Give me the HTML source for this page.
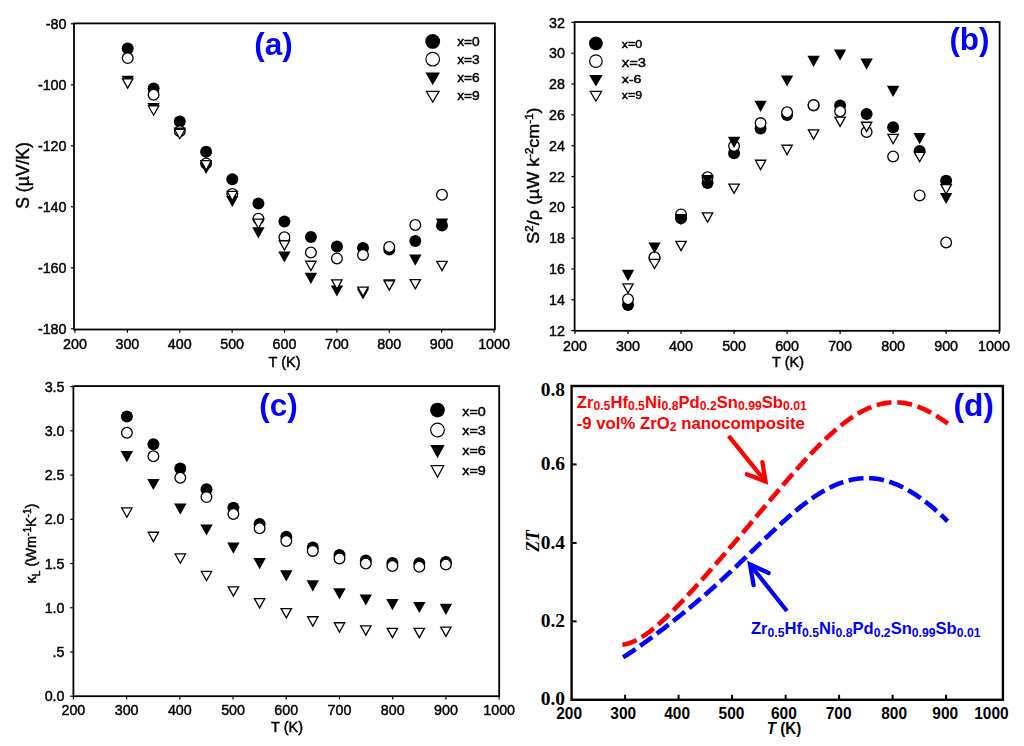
<!DOCTYPE html>
<html><head><meta charset="utf-8"><title>Thermoelectric properties</title>
<style>
html,body{margin:0;padding:0;background:#fff;}
body{width:1024px;height:746px;overflow:hidden;font-family:"Liberation Sans", sans-serif;}
svg{display:block;}
</style></head>
<body>
<svg width="1024" height="746" viewBox="0 0 1024 746">
<rect width="1024" height="746" fill="#fff"/>
<g opacity="0.999">
<line x1="75" y1="329.5" x2="75" y2="332.7" stroke="#000" stroke-width="1.2"/>
<line x1="127.38" y1="329.5" x2="127.38" y2="332.7" stroke="#000" stroke-width="1.2"/>
<line x1="179.76" y1="329.5" x2="179.76" y2="332.7" stroke="#000" stroke-width="1.2"/>
<line x1="232.14" y1="329.5" x2="232.14" y2="332.7" stroke="#000" stroke-width="1.2"/>
<line x1="284.52" y1="329.5" x2="284.52" y2="332.7" stroke="#000" stroke-width="1.2"/>
<line x1="336.9" y1="329.5" x2="336.9" y2="332.7" stroke="#000" stroke-width="1.2"/>
<line x1="389.28" y1="329.5" x2="389.28" y2="332.7" stroke="#000" stroke-width="1.2"/>
<line x1="441.66" y1="329.5" x2="441.66" y2="332.7" stroke="#000" stroke-width="1.2"/>
<line x1="494.04" y1="329.5" x2="494.04" y2="332.7" stroke="#000" stroke-width="1.2"/>
<line x1="70.8" y1="23.8" x2="74" y2="23.8" stroke="#000" stroke-width="1.2"/>
<line x1="70.8" y1="84.8" x2="74" y2="84.8" stroke="#000" stroke-width="1.2"/>
<line x1="70.8" y1="145.8" x2="74" y2="145.8" stroke="#000" stroke-width="1.2"/>
<line x1="70.8" y1="206.8" x2="74" y2="206.8" stroke="#000" stroke-width="1.2"/>
<line x1="70.8" y1="267.8" x2="74" y2="267.8" stroke="#000" stroke-width="1.2"/>
<line x1="70.8" y1="328.8" x2="74" y2="328.8" stroke="#000" stroke-width="1.2"/>
<rect x="74" y="23.4" width="420.9" height="306.1" fill="none" stroke="#000" stroke-width="1.8"/>
<text x="75" y="349.4" font-size="14.3" text-anchor="middle" font-weight="normal" font-family='"Liberation Sans", sans-serif' fill="#000" stroke="#000" stroke-width="0.45" >200</text>
<text x="127.38" y="349.4" font-size="14.3" text-anchor="middle" font-weight="normal" font-family='"Liberation Sans", sans-serif' fill="#000" stroke="#000" stroke-width="0.45" >300</text>
<text x="179.76" y="349.4" font-size="14.3" text-anchor="middle" font-weight="normal" font-family='"Liberation Sans", sans-serif' fill="#000" stroke="#000" stroke-width="0.45" >400</text>
<text x="232.14" y="349.4" font-size="14.3" text-anchor="middle" font-weight="normal" font-family='"Liberation Sans", sans-serif' fill="#000" stroke="#000" stroke-width="0.45" >500</text>
<text x="284.52" y="349.4" font-size="14.3" text-anchor="middle" font-weight="normal" font-family='"Liberation Sans", sans-serif' fill="#000" stroke="#000" stroke-width="0.45" >600</text>
<text x="336.9" y="349.4" font-size="14.3" text-anchor="middle" font-weight="normal" font-family='"Liberation Sans", sans-serif' fill="#000" stroke="#000" stroke-width="0.45" >700</text>
<text x="389.28" y="349.4" font-size="14.3" text-anchor="middle" font-weight="normal" font-family='"Liberation Sans", sans-serif' fill="#000" stroke="#000" stroke-width="0.45" >800</text>
<text x="441.66" y="349.4" font-size="14.3" text-anchor="middle" font-weight="normal" font-family='"Liberation Sans", sans-serif' fill="#000" stroke="#000" stroke-width="0.45" >900</text>
<text x="494.04" y="349.4" font-size="14.3" text-anchor="middle" font-weight="normal" font-family='"Liberation Sans", sans-serif' fill="#000" stroke="#000" stroke-width="0.45" >1000</text>
<text x="66.5" y="28.95" font-size="14.3" text-anchor="end" font-weight="normal" font-family='"Liberation Sans", sans-serif' fill="#000" stroke="#000" stroke-width="0.45" >-80</text>
<text x="66.5" y="89.95" font-size="14.3" text-anchor="end" font-weight="normal" font-family='"Liberation Sans", sans-serif' fill="#000" stroke="#000" stroke-width="0.45" >-100</text>
<text x="66.5" y="150.95" font-size="14.3" text-anchor="end" font-weight="normal" font-family='"Liberation Sans", sans-serif' fill="#000" stroke="#000" stroke-width="0.45" >-120</text>
<text x="66.5" y="211.95" font-size="14.3" text-anchor="end" font-weight="normal" font-family='"Liberation Sans", sans-serif' fill="#000" stroke="#000" stroke-width="0.45" >-140</text>
<text x="66.5" y="272.95" font-size="14.3" text-anchor="end" font-weight="normal" font-family='"Liberation Sans", sans-serif' fill="#000" stroke="#000" stroke-width="0.45" >-160</text>
<text x="66.5" y="333.95" font-size="14.3" text-anchor="end" font-weight="normal" font-family='"Liberation Sans", sans-serif' fill="#000" stroke="#000" stroke-width="0.45" >-180</text>
<circle cx="127.7" cy="48.5" r="6" fill="#000"/>
<circle cx="153.6" cy="88.4" r="6" fill="#000"/>
<circle cx="179.8" cy="121.5" r="6" fill="#000"/>
<circle cx="206.1" cy="151.8" r="6" fill="#000"/>
<circle cx="232.3" cy="179.3" r="6" fill="#000"/>
<circle cx="258.4" cy="203.5" r="6" fill="#000"/>
<circle cx="284.4" cy="221.6" r="6" fill="#000"/>
<circle cx="310.9" cy="237.1" r="6" fill="#000"/>
<circle cx="336.9" cy="246.4" r="6" fill="#000"/>
<circle cx="363" cy="248" r="6" fill="#000"/>
<circle cx="389.3" cy="249.5" r="6" fill="#000"/>
<circle cx="415.3" cy="241" r="6" fill="#000"/>
<circle cx="442" cy="225.6" r="6" fill="#000"/>
<circle cx="127.7" cy="58.1" r="5.35" fill="#fff" stroke="#000" stroke-width="1.3"/>
<circle cx="153.6" cy="94.7" r="5.35" fill="#fff" stroke="#000" stroke-width="1.3"/>
<circle cx="179.8" cy="131.2" r="5.35" fill="#fff" stroke="#000" stroke-width="1.3"/>
<circle cx="206.1" cy="163.5" r="5.35" fill="#fff" stroke="#000" stroke-width="1.3"/>
<circle cx="232.3" cy="194" r="5.35" fill="#fff" stroke="#000" stroke-width="1.3"/>
<circle cx="258.4" cy="218.8" r="5.35" fill="#fff" stroke="#000" stroke-width="1.3"/>
<circle cx="284.4" cy="237.3" r="5.35" fill="#fff" stroke="#000" stroke-width="1.3"/>
<circle cx="310.9" cy="252.5" r="5.35" fill="#fff" stroke="#000" stroke-width="1.3"/>
<circle cx="336.9" cy="258.4" r="5.35" fill="#fff" stroke="#000" stroke-width="1.3"/>
<circle cx="363" cy="254.9" r="5.35" fill="#fff" stroke="#000" stroke-width="1.3"/>
<circle cx="389.3" cy="247" r="5.35" fill="#fff" stroke="#000" stroke-width="1.3"/>
<circle cx="415.3" cy="225" r="5.35" fill="#fff" stroke="#000" stroke-width="1.3"/>
<circle cx="442" cy="194.8" r="5.35" fill="#fff" stroke="#000" stroke-width="1.3"/>
<polygon points="121.5,75.7 133.9,75.7 127.7,86.9" fill="#000"/>
<polygon points="147.4,102.9 159.8,102.9 153.6,114.1" fill="#000"/>
<polygon points="173.6,127.4 186,127.4 179.8,138.6" fill="#000"/>
<polygon points="199.9,162.9 212.3,162.9 206.1,174.1" fill="#000"/>
<polygon points="226.1,195.9 238.5,195.9 232.3,207.1" fill="#000"/>
<polygon points="252.2,227.3 264.6,227.3 258.4,238.5" fill="#000"/>
<polygon points="278.2,251.4 290.6,251.4 284.4,262.6" fill="#000"/>
<polygon points="304.7,272.7 317.1,272.7 310.9,283.9" fill="#000"/>
<polygon points="330.7,285.4 343.1,285.4 336.9,296.6" fill="#000"/>
<polygon points="356.8,288.4 369.2,288.4 363,299.6" fill="#000"/>
<polygon points="383.1,279.2 395.5,279.2 389.3,290.4" fill="#000"/>
<polygon points="409.1,254.6 421.5,254.6 415.3,265.8" fill="#000"/>
<polygon points="435.8,218.6 448.2,218.6 442,229.8" fill="#000"/>
<polygon points="122.51,78.85 132.89,78.85 127.7,88.15" fill="#fff" stroke="#000" stroke-width="1.3" stroke-linejoin="miter"/>
<polygon points="148.41,105.95 158.79,105.95 153.6,115.25" fill="#fff" stroke="#000" stroke-width="1.3" stroke-linejoin="miter"/>
<polygon points="174.61,129.45 184.99,129.45 179.8,138.75" fill="#fff" stroke="#000" stroke-width="1.3" stroke-linejoin="miter"/>
<polygon points="200.91,160.65 211.29,160.65 206.1,169.95" fill="#fff" stroke="#000" stroke-width="1.3" stroke-linejoin="miter"/>
<polygon points="227.11,191.35 237.49,191.35 232.3,200.65" fill="#fff" stroke="#000" stroke-width="1.3" stroke-linejoin="miter"/>
<polygon points="253.21,219.15 263.59,219.15 258.4,228.45" fill="#fff" stroke="#000" stroke-width="1.3" stroke-linejoin="miter"/>
<polygon points="279.21,240.75 289.59,240.75 284.4,250.05" fill="#fff" stroke="#000" stroke-width="1.3" stroke-linejoin="miter"/>
<polygon points="305.71,261.25 316.09,261.25 310.9,270.55" fill="#fff" stroke="#000" stroke-width="1.3" stroke-linejoin="miter"/>
<polygon points="331.71,279.85 342.09,279.85 336.9,289.15" fill="#fff" stroke="#000" stroke-width="1.3" stroke-linejoin="miter"/>
<polygon points="357.81,287.05 368.19,287.05 363,296.35" fill="#fff" stroke="#000" stroke-width="1.3" stroke-linejoin="miter"/>
<polygon points="384.11,280.85 394.49,280.85 389.3,290.15" fill="#fff" stroke="#000" stroke-width="1.3" stroke-linejoin="miter"/>
<polygon points="410.11,279.55 420.49,279.55 415.3,288.85" fill="#fff" stroke="#000" stroke-width="1.3" stroke-linejoin="miter"/>
<polygon points="436.81,261.35 447.19,261.35 442,270.65" fill="#fff" stroke="#000" stroke-width="1.3" stroke-linejoin="miter"/>
<circle cx="432.7" cy="41.4" r="7.4" fill="#000"/>
<text x="457.2" y="46.4" font-size="13" text-anchor="start" font-weight="normal" font-family='"Liberation Sans", sans-serif' fill="#000" stroke="#000" stroke-width="0.45" textLength="22.6" lengthAdjust="spacingAndGlyphs">x=0</text>
<circle cx="432.7" cy="59.2" r="6.8" fill="#fff" stroke="#000" stroke-width="1.2"/>
<text x="457.2" y="64.2" font-size="13" text-anchor="start" font-weight="normal" font-family='"Liberation Sans", sans-serif' fill="#000" stroke="#000" stroke-width="0.45" textLength="22.6" lengthAdjust="spacingAndGlyphs">x=3</text>
<polygon points="425.4,72.6 440,72.6 432.7,85.2" fill="#000"/>
<text x="457.2" y="82.4" font-size="13" text-anchor="start" font-weight="normal" font-family='"Liberation Sans", sans-serif' fill="#000" stroke="#000" stroke-width="0.45" textLength="22.6" lengthAdjust="spacingAndGlyphs">x=6</text>
<polygon points="426.34,91.3 439.06,91.3 432.7,102.15" fill="#fff" stroke="#000" stroke-width="1.2" stroke-linejoin="miter"/>
<text x="457.2" y="100.4" font-size="13" text-anchor="start" font-weight="normal" font-family='"Liberation Sans", sans-serif' fill="#000" stroke="#000" stroke-width="0.45" textLength="22.6" lengthAdjust="spacingAndGlyphs">x=9</text>
<text x="273.5" y="54.8" font-size="31.5" text-anchor="middle" font-weight="bold" font-family='"Liberation Sans", sans-serif' fill="#0000ff" >(a)</text>
<text x="284.5" y="366.8" font-size="14.5" text-anchor="middle" font-weight="normal" font-family='"Liberation Sans", sans-serif' fill="#000" stroke="#000" stroke-width="0.45" >T (K)</text>
<text x="0" y="0" font-size="17.5" text-anchor="middle" font-weight="normal" font-family='"Liberation Sans", sans-serif' fill="#000" stroke="#000" stroke-width="0.45" transform="translate(29.3,175.5) rotate(-90)">S (µV/K)</text>
<line x1="575" y1="330.8" x2="575" y2="334" stroke="#000" stroke-width="1.2"/>
<line x1="628.02" y1="330.8" x2="628.02" y2="334" stroke="#000" stroke-width="1.2"/>
<line x1="681.04" y1="330.8" x2="681.04" y2="334" stroke="#000" stroke-width="1.2"/>
<line x1="734.06" y1="330.8" x2="734.06" y2="334" stroke="#000" stroke-width="1.2"/>
<line x1="787.08" y1="330.8" x2="787.08" y2="334" stroke="#000" stroke-width="1.2"/>
<line x1="840.1" y1="330.8" x2="840.1" y2="334" stroke="#000" stroke-width="1.2"/>
<line x1="893.12" y1="330.8" x2="893.12" y2="334" stroke="#000" stroke-width="1.2"/>
<line x1="946.14" y1="330.8" x2="946.14" y2="334" stroke="#000" stroke-width="1.2"/>
<line x1="999.16" y1="330.8" x2="999.16" y2="334" stroke="#000" stroke-width="1.2"/>
<line x1="571.4" y1="330.6" x2="574.6" y2="330.6" stroke="#000" stroke-width="1.2"/>
<line x1="571.4" y1="299.78" x2="574.6" y2="299.78" stroke="#000" stroke-width="1.2"/>
<line x1="571.4" y1="268.96" x2="574.6" y2="268.96" stroke="#000" stroke-width="1.2"/>
<line x1="571.4" y1="238.14" x2="574.6" y2="238.14" stroke="#000" stroke-width="1.2"/>
<line x1="571.4" y1="207.32" x2="574.6" y2="207.32" stroke="#000" stroke-width="1.2"/>
<line x1="571.4" y1="176.5" x2="574.6" y2="176.5" stroke="#000" stroke-width="1.2"/>
<line x1="571.4" y1="145.68" x2="574.6" y2="145.68" stroke="#000" stroke-width="1.2"/>
<line x1="571.4" y1="114.86" x2="574.6" y2="114.86" stroke="#000" stroke-width="1.2"/>
<line x1="571.4" y1="84.04" x2="574.6" y2="84.04" stroke="#000" stroke-width="1.2"/>
<line x1="571.4" y1="53.22" x2="574.6" y2="53.22" stroke="#000" stroke-width="1.2"/>
<line x1="571.4" y1="22.4" x2="574.6" y2="22.4" stroke="#000" stroke-width="1.2"/>
<rect x="574.6" y="22" width="425" height="308.8" fill="none" stroke="#000" stroke-width="1.8"/>
<text x="575" y="351" font-size="14.3" text-anchor="middle" font-weight="normal" font-family='"Liberation Sans", sans-serif' fill="#000" stroke="#000" stroke-width="0.45" >200</text>
<text x="628.02" y="351" font-size="14.3" text-anchor="middle" font-weight="normal" font-family='"Liberation Sans", sans-serif' fill="#000" stroke="#000" stroke-width="0.45" >300</text>
<text x="681.04" y="351" font-size="14.3" text-anchor="middle" font-weight="normal" font-family='"Liberation Sans", sans-serif' fill="#000" stroke="#000" stroke-width="0.45" >400</text>
<text x="734.06" y="351" font-size="14.3" text-anchor="middle" font-weight="normal" font-family='"Liberation Sans", sans-serif' fill="#000" stroke="#000" stroke-width="0.45" >500</text>
<text x="787.08" y="351" font-size="14.3" text-anchor="middle" font-weight="normal" font-family='"Liberation Sans", sans-serif' fill="#000" stroke="#000" stroke-width="0.45" >600</text>
<text x="840.1" y="351" font-size="14.3" text-anchor="middle" font-weight="normal" font-family='"Liberation Sans", sans-serif' fill="#000" stroke="#000" stroke-width="0.45" >700</text>
<text x="893.12" y="351" font-size="14.3" text-anchor="middle" font-weight="normal" font-family='"Liberation Sans", sans-serif' fill="#000" stroke="#000" stroke-width="0.45" >800</text>
<text x="946.14" y="351" font-size="14.3" text-anchor="middle" font-weight="normal" font-family='"Liberation Sans", sans-serif' fill="#000" stroke="#000" stroke-width="0.45" >900</text>
<text x="993.96" y="351" font-size="14.3" text-anchor="middle" font-weight="normal" font-family='"Liberation Sans", sans-serif' fill="#000" stroke="#000" stroke-width="0.45" >1000</text>
<text x="565" y="335.75" font-size="14.3" text-anchor="end" font-weight="normal" font-family='"Liberation Sans", sans-serif' fill="#000" stroke="#000" stroke-width="0.45" >12</text>
<text x="565" y="304.93" font-size="14.3" text-anchor="end" font-weight="normal" font-family='"Liberation Sans", sans-serif' fill="#000" stroke="#000" stroke-width="0.45" >14</text>
<text x="565" y="274.11" font-size="14.3" text-anchor="end" font-weight="normal" font-family='"Liberation Sans", sans-serif' fill="#000" stroke="#000" stroke-width="0.45" >16</text>
<text x="565" y="243.29" font-size="14.3" text-anchor="end" font-weight="normal" font-family='"Liberation Sans", sans-serif' fill="#000" stroke="#000" stroke-width="0.45" >18</text>
<text x="565" y="212.47" font-size="14.3" text-anchor="end" font-weight="normal" font-family='"Liberation Sans", sans-serif' fill="#000" stroke="#000" stroke-width="0.45" >20</text>
<text x="565" y="181.65" font-size="14.3" text-anchor="end" font-weight="normal" font-family='"Liberation Sans", sans-serif' fill="#000" stroke="#000" stroke-width="0.45" >22</text>
<text x="565" y="150.83" font-size="14.3" text-anchor="end" font-weight="normal" font-family='"Liberation Sans", sans-serif' fill="#000" stroke="#000" stroke-width="0.45" >24</text>
<text x="565" y="120.01" font-size="14.3" text-anchor="end" font-weight="normal" font-family='"Liberation Sans", sans-serif' fill="#000" stroke="#000" stroke-width="0.45" >26</text>
<text x="565" y="89.19" font-size="14.3" text-anchor="end" font-weight="normal" font-family='"Liberation Sans", sans-serif' fill="#000" stroke="#000" stroke-width="0.45" >28</text>
<text x="565" y="58.37" font-size="14.3" text-anchor="end" font-weight="normal" font-family='"Liberation Sans", sans-serif' fill="#000" stroke="#000" stroke-width="0.45" >30</text>
<text x="565" y="27.55" font-size="14.3" text-anchor="end" font-weight="normal" font-family='"Liberation Sans", sans-serif' fill="#000" stroke="#000" stroke-width="0.45" >32</text>
<circle cx="628.02" cy="305" r="6" fill="#000"/>
<circle cx="654.53" cy="258" r="6" fill="#000"/>
<circle cx="681.04" cy="218.3" r="6" fill="#000"/>
<circle cx="707.55" cy="183" r="6" fill="#000"/>
<circle cx="734.06" cy="153.3" r="6" fill="#000"/>
<circle cx="760.57" cy="128.4" r="6" fill="#000"/>
<circle cx="787.08" cy="114.9" r="6" fill="#000"/>
<circle cx="813.59" cy="105.5" r="6" fill="#000"/>
<circle cx="840.1" cy="105.5" r="6" fill="#000"/>
<circle cx="866.61" cy="114.1" r="6" fill="#000"/>
<circle cx="893.12" cy="127.3" r="6" fill="#000"/>
<circle cx="919.63" cy="150.9" r="6" fill="#000"/>
<circle cx="946.14" cy="180.7" r="6" fill="#000"/>
<circle cx="628.02" cy="299.3" r="5.35" fill="#fff" stroke="#000" stroke-width="1.3"/>
<circle cx="654.53" cy="257.2" r="5.35" fill="#fff" stroke="#000" stroke-width="1.3"/>
<circle cx="681.04" cy="214.4" r="5.35" fill="#fff" stroke="#000" stroke-width="1.3"/>
<circle cx="707.55" cy="177.3" r="5.35" fill="#fff" stroke="#000" stroke-width="1.3"/>
<circle cx="734.06" cy="146" r="5.35" fill="#fff" stroke="#000" stroke-width="1.3"/>
<circle cx="760.57" cy="123.1" r="5.35" fill="#fff" stroke="#000" stroke-width="1.3"/>
<circle cx="787.08" cy="112.2" r="5.35" fill="#fff" stroke="#000" stroke-width="1.3"/>
<circle cx="813.59" cy="105.1" r="5.35" fill="#fff" stroke="#000" stroke-width="1.3"/>
<circle cx="840.1" cy="111.3" r="5.35" fill="#fff" stroke="#000" stroke-width="1.3"/>
<circle cx="866.61" cy="132" r="5.35" fill="#fff" stroke="#000" stroke-width="1.3"/>
<circle cx="893.12" cy="156.5" r="5.35" fill="#fff" stroke="#000" stroke-width="1.3"/>
<circle cx="919.63" cy="195.4" r="5.35" fill="#fff" stroke="#000" stroke-width="1.3"/>
<circle cx="946.14" cy="242.5" r="5.35" fill="#fff" stroke="#000" stroke-width="1.3"/>
<polygon points="621.82,269.8 634.22,269.8 628.02,281" fill="#000"/>
<polygon points="648.33,242.4 660.73,242.4 654.53,253.6" fill="#000"/>
<polygon points="674.84,214 687.24,214 681.04,225.2" fill="#000"/>
<polygon points="701.35,174.9 713.75,174.9 707.55,186.1" fill="#000"/>
<polygon points="727.86,136.7 740.26,136.7 734.06,147.9" fill="#000"/>
<polygon points="754.37,100.8 766.77,100.8 760.57,112" fill="#000"/>
<polygon points="780.88,75.4 793.28,75.4 787.08,86.6" fill="#000"/>
<polygon points="807.39,55.7 819.79,55.7 813.59,66.9" fill="#000"/>
<polygon points="833.9,49.4 846.3,49.4 840.1,60.6" fill="#000"/>
<polygon points="860.41,58.6 872.81,58.6 866.61,69.8" fill="#000"/>
<polygon points="886.92,85.7 899.32,85.7 893.12,96.9" fill="#000"/>
<polygon points="913.43,133.1 925.83,133.1 919.63,144.3" fill="#000"/>
<polygon points="939.94,192.9 952.34,192.9 946.14,204.1" fill="#000"/>
<polygon points="622.83,283.85 633.21,283.85 628.02,293.15" fill="#fff" stroke="#000" stroke-width="1.3" stroke-linejoin="miter"/>
<polygon points="649.34,259.45 659.72,259.45 654.53,268.75" fill="#fff" stroke="#000" stroke-width="1.3" stroke-linejoin="miter"/>
<polygon points="675.85,241.35 686.23,241.35 681.04,250.65" fill="#fff" stroke="#000" stroke-width="1.3" stroke-linejoin="miter"/>
<polygon points="702.36,212.85 712.74,212.85 707.55,222.15" fill="#fff" stroke="#000" stroke-width="1.3" stroke-linejoin="miter"/>
<polygon points="728.87,184.05 739.25,184.05 734.06,193.35" fill="#fff" stroke="#000" stroke-width="1.3" stroke-linejoin="miter"/>
<polygon points="755.38,160.25 765.76,160.25 760.57,169.55" fill="#fff" stroke="#000" stroke-width="1.3" stroke-linejoin="miter"/>
<polygon points="781.89,145.25 792.27,145.25 787.08,154.55" fill="#fff" stroke="#000" stroke-width="1.3" stroke-linejoin="miter"/>
<polygon points="808.4,129.85 818.78,129.85 813.59,139.15" fill="#fff" stroke="#000" stroke-width="1.3" stroke-linejoin="miter"/>
<polygon points="834.91,117.05 845.29,117.05 840.1,126.35" fill="#fff" stroke="#000" stroke-width="1.3" stroke-linejoin="miter"/>
<polygon points="861.42,122.25 871.8,122.25 866.61,131.55" fill="#fff" stroke="#000" stroke-width="1.3" stroke-linejoin="miter"/>
<polygon points="887.93,134.45 898.31,134.45 893.12,143.75" fill="#fff" stroke="#000" stroke-width="1.3" stroke-linejoin="miter"/>
<polygon points="914.44,152.45 924.82,152.45 919.63,161.75" fill="#fff" stroke="#000" stroke-width="1.3" stroke-linejoin="miter"/>
<polygon points="940.95,184.65 951.33,184.65 946.14,193.95" fill="#fff" stroke="#000" stroke-width="1.3" stroke-linejoin="miter"/>
<circle cx="595.9" cy="43.4" r="6.9" fill="#000"/>
<text x="621.8" y="47.6" font-size="11" text-anchor="start" font-weight="normal" font-family='"Liberation Sans", sans-serif' fill="#000" stroke="#000" stroke-width="0.45" textLength="20.4" lengthAdjust="spacingAndGlyphs">x=0</text>
<circle cx="595.9" cy="61.1" r="6.3" fill="#fff" stroke="#000" stroke-width="1.2"/>
<text x="621.8" y="66.5" font-size="13" text-anchor="start" font-weight="normal" font-family='"Liberation Sans", sans-serif' fill="#000" stroke="#000" stroke-width="0.45" textLength="24.2" lengthAdjust="spacingAndGlyphs">x=3</text>
<polygon points="589.2,75 602.6,75 595.9,86.4" fill="#000"/>
<text x="621.8" y="83.3" font-size="11" text-anchor="start" font-weight="normal" font-family='"Liberation Sans", sans-serif' fill="#000" stroke="#000" stroke-width="0.45" textLength="19.7" lengthAdjust="spacingAndGlyphs">x-6</text>
<polygon points="590.14,91.4 601.66,91.4 595.9,101.05" fill="#fff" stroke="#000" stroke-width="1.2" stroke-linejoin="miter"/>
<text x="621.8" y="99.3" font-size="11.5" text-anchor="start" font-weight="normal" font-family='"Liberation Sans", sans-serif' fill="#000" stroke="#000" stroke-width="0.45" textLength="20.2" lengthAdjust="spacingAndGlyphs">x=9</text>
<text x="969.5" y="49.6" font-size="31.5" text-anchor="middle" font-weight="bold" font-family='"Liberation Sans", sans-serif' fill="#0000ff" >(b)</text>
<text x="788" y="367" font-size="14.5" text-anchor="middle" font-weight="normal" font-family='"Liberation Sans", sans-serif' fill="#000" stroke="#000" stroke-width="0.45" >T (K)</text>
<text x="0" y="0" font-size="16.5" text-anchor="middle" font-weight="normal" font-family='"Liberation Sans", sans-serif' fill="#000" stroke="#000" stroke-width="0.45" transform="translate(538.5,175.6) rotate(-90) scale(1.09,1)">S<tspan dy="-5.5" font-size="10.5">2</tspan><tspan dy="5.5">/ρ (µW k</tspan><tspan dy="-5.5" font-size="10.5">-2</tspan><tspan dy="5.5">cm</tspan><tspan dy="-5.5" font-size="10.5">-1</tspan><tspan dy="5.5">)</tspan></text>
<line x1="73.4" y1="696.2" x2="73.4" y2="699.4" stroke="#000" stroke-width="1.2"/>
<line x1="126.62" y1="696.2" x2="126.62" y2="699.4" stroke="#000" stroke-width="1.2"/>
<line x1="179.84" y1="696.2" x2="179.84" y2="699.4" stroke="#000" stroke-width="1.2"/>
<line x1="233.06" y1="696.2" x2="233.06" y2="699.4" stroke="#000" stroke-width="1.2"/>
<line x1="286.28" y1="696.2" x2="286.28" y2="699.4" stroke="#000" stroke-width="1.2"/>
<line x1="339.5" y1="696.2" x2="339.5" y2="699.4" stroke="#000" stroke-width="1.2"/>
<line x1="392.72" y1="696.2" x2="392.72" y2="699.4" stroke="#000" stroke-width="1.2"/>
<line x1="445.94" y1="696.2" x2="445.94" y2="699.4" stroke="#000" stroke-width="1.2"/>
<line x1="499.16" y1="696.2" x2="499.16" y2="699.4" stroke="#000" stroke-width="1.2"/>
<line x1="70.2" y1="696.2" x2="73.4" y2="696.2" stroke="#000" stroke-width="1.2"/>
<line x1="70.2" y1="651.98" x2="73.4" y2="651.98" stroke="#000" stroke-width="1.2"/>
<line x1="70.2" y1="607.75" x2="73.4" y2="607.75" stroke="#000" stroke-width="1.2"/>
<line x1="70.2" y1="563.53" x2="73.4" y2="563.53" stroke="#000" stroke-width="1.2"/>
<line x1="70.2" y1="519.3" x2="73.4" y2="519.3" stroke="#000" stroke-width="1.2"/>
<line x1="70.2" y1="475.08" x2="73.4" y2="475.08" stroke="#000" stroke-width="1.2"/>
<line x1="70.2" y1="430.85" x2="73.4" y2="430.85" stroke="#000" stroke-width="1.2"/>
<line x1="70.2" y1="386.63" x2="73.4" y2="386.63" stroke="#000" stroke-width="1.2"/>
<rect x="73.4" y="386.1" width="425.8" height="310.1" fill="none" stroke="#000" stroke-width="1.8"/>
<text x="73.4" y="715.3" font-size="14.3" text-anchor="middle" font-weight="normal" font-family='"Liberation Sans", sans-serif' fill="#000" stroke="#000" stroke-width="0.45" >200</text>
<text x="126.62" y="715.3" font-size="14.3" text-anchor="middle" font-weight="normal" font-family='"Liberation Sans", sans-serif' fill="#000" stroke="#000" stroke-width="0.45" >300</text>
<text x="179.84" y="715.3" font-size="14.3" text-anchor="middle" font-weight="normal" font-family='"Liberation Sans", sans-serif' fill="#000" stroke="#000" stroke-width="0.45" >400</text>
<text x="233.06" y="715.3" font-size="14.3" text-anchor="middle" font-weight="normal" font-family='"Liberation Sans", sans-serif' fill="#000" stroke="#000" stroke-width="0.45" >500</text>
<text x="286.28" y="715.3" font-size="14.3" text-anchor="middle" font-weight="normal" font-family='"Liberation Sans", sans-serif' fill="#000" stroke="#000" stroke-width="0.45" >600</text>
<text x="339.5" y="715.3" font-size="14.3" text-anchor="middle" font-weight="normal" font-family='"Liberation Sans", sans-serif' fill="#000" stroke="#000" stroke-width="0.45" >700</text>
<text x="392.72" y="715.3" font-size="14.3" text-anchor="middle" font-weight="normal" font-family='"Liberation Sans", sans-serif' fill="#000" stroke="#000" stroke-width="0.45" >800</text>
<text x="445.94" y="715.3" font-size="14.3" text-anchor="middle" font-weight="normal" font-family='"Liberation Sans", sans-serif' fill="#000" stroke="#000" stroke-width="0.45" >900</text>
<text x="499.16" y="715.3" font-size="14.3" text-anchor="middle" font-weight="normal" font-family='"Liberation Sans", sans-serif' fill="#000" stroke="#000" stroke-width="0.45" >1000</text>
<text x="64.5" y="701.35" font-size="14.3" text-anchor="end" font-weight="normal" font-family='"Liberation Sans", sans-serif' fill="#000" stroke="#000" stroke-width="0.45" >0.0</text>
<text x="64.5" y="657.12" font-size="14.3" text-anchor="end" font-weight="normal" font-family='"Liberation Sans", sans-serif' fill="#000" stroke="#000" stroke-width="0.45" >.5</text>
<text x="64.5" y="612.9" font-size="14.3" text-anchor="end" font-weight="normal" font-family='"Liberation Sans", sans-serif' fill="#000" stroke="#000" stroke-width="0.45" >1.0</text>
<text x="64.5" y="568.67" font-size="14.3" text-anchor="end" font-weight="normal" font-family='"Liberation Sans", sans-serif' fill="#000" stroke="#000" stroke-width="0.45" >1.5</text>
<text x="64.5" y="524.45" font-size="14.3" text-anchor="end" font-weight="normal" font-family='"Liberation Sans", sans-serif' fill="#000" stroke="#000" stroke-width="0.45" >2.0</text>
<text x="64.5" y="480.22" font-size="14.3" text-anchor="end" font-weight="normal" font-family='"Liberation Sans", sans-serif' fill="#000" stroke="#000" stroke-width="0.45" >2.5</text>
<text x="64.5" y="436" font-size="14.3" text-anchor="end" font-weight="normal" font-family='"Liberation Sans", sans-serif' fill="#000" stroke="#000" stroke-width="0.45" >3.0</text>
<text x="64.5" y="391.77" font-size="14.3" text-anchor="end" font-weight="normal" font-family='"Liberation Sans", sans-serif' fill="#000" stroke="#000" stroke-width="0.45" >3.5</text>
<circle cx="126.9" cy="416.6" r="6" fill="#000"/>
<circle cx="153.4" cy="444.2" r="6" fill="#000"/>
<circle cx="180.3" cy="468.4" r="6" fill="#000"/>
<circle cx="206.5" cy="489.3" r="6" fill="#000"/>
<circle cx="233.4" cy="507.8" r="6" fill="#000"/>
<circle cx="259.6" cy="523.9" r="6" fill="#000"/>
<circle cx="286.3" cy="536.7" r="6" fill="#000"/>
<circle cx="312.8" cy="547.4" r="6" fill="#000"/>
<circle cx="339.5" cy="554.9" r="6" fill="#000"/>
<circle cx="365.8" cy="560.5" r="6" fill="#000"/>
<circle cx="392.4" cy="562.9" r="6" fill="#000"/>
<circle cx="419.3" cy="563.3" r="6" fill="#000"/>
<circle cx="445.9" cy="562" r="6" fill="#000"/>
<circle cx="126.9" cy="432.7" r="5.35" fill="#fff" stroke="#000" stroke-width="1.3"/>
<circle cx="153.4" cy="456.3" r="5.35" fill="#fff" stroke="#000" stroke-width="1.3"/>
<circle cx="180.3" cy="477.8" r="5.35" fill="#fff" stroke="#000" stroke-width="1.3"/>
<circle cx="206.5" cy="497.1" r="5.35" fill="#fff" stroke="#000" stroke-width="1.3"/>
<circle cx="233.4" cy="514" r="5.35" fill="#fff" stroke="#000" stroke-width="1.3"/>
<circle cx="259.6" cy="528.2" r="5.35" fill="#fff" stroke="#000" stroke-width="1.3"/>
<circle cx="286.3" cy="541" r="5.35" fill="#fff" stroke="#000" stroke-width="1.3"/>
<circle cx="312.8" cy="550.9" r="5.35" fill="#fff" stroke="#000" stroke-width="1.3"/>
<circle cx="339.5" cy="558.4" r="5.35" fill="#fff" stroke="#000" stroke-width="1.3"/>
<circle cx="365.8" cy="563.5" r="5.35" fill="#fff" stroke="#000" stroke-width="1.3"/>
<circle cx="392.4" cy="566" r="5.35" fill="#fff" stroke="#000" stroke-width="1.3"/>
<circle cx="419.3" cy="566.7" r="5.35" fill="#fff" stroke="#000" stroke-width="1.3"/>
<circle cx="445.9" cy="564.5" r="5.35" fill="#fff" stroke="#000" stroke-width="1.3"/>
<polygon points="120.7,451 133.1,451 126.9,462.2" fill="#000"/>
<polygon points="147.2,478.9 159.6,478.9 153.4,490.1" fill="#000"/>
<polygon points="174.1,503.6 186.5,503.6 180.3,514.8" fill="#000"/>
<polygon points="200.3,524.4 212.7,524.4 206.5,535.6" fill="#000"/>
<polygon points="227.2,542.5 239.6,542.5 233.4,553.7" fill="#000"/>
<polygon points="253.4,558 265.8,558 259.6,569.2" fill="#000"/>
<polygon points="280.1,570.3 292.5,570.3 286.3,581.5" fill="#000"/>
<polygon points="306.6,580.2 319,580.2 312.8,591.4" fill="#000"/>
<polygon points="333.3,588.3 345.7,588.3 339.5,599.5" fill="#000"/>
<polygon points="359.6,594.4 372,594.4 365.8,605.6" fill="#000"/>
<polygon points="386.2,599 398.6,599 392.4,610.2" fill="#000"/>
<polygon points="413.1,601.9 425.5,601.9 419.3,613.1" fill="#000"/>
<polygon points="439.7,603.7 452.1,603.7 445.9,614.9" fill="#000"/>
<polygon points="121.71,507.95 132.09,507.95 126.9,517.25" fill="#fff" stroke="#000" stroke-width="1.3" stroke-linejoin="miter"/>
<polygon points="148.21,532.25 158.59,532.25 153.4,541.55" fill="#fff" stroke="#000" stroke-width="1.3" stroke-linejoin="miter"/>
<polygon points="175.11,553.95 185.49,553.95 180.3,563.25" fill="#fff" stroke="#000" stroke-width="1.3" stroke-linejoin="miter"/>
<polygon points="201.31,571.45 211.69,571.45 206.5,580.75" fill="#fff" stroke="#000" stroke-width="1.3" stroke-linejoin="miter"/>
<polygon points="228.21,586.85 238.59,586.85 233.4,596.15" fill="#fff" stroke="#000" stroke-width="1.3" stroke-linejoin="miter"/>
<polygon points="254.41,598.55 264.79,598.55 259.6,607.85" fill="#fff" stroke="#000" stroke-width="1.3" stroke-linejoin="miter"/>
<polygon points="281.11,608.55 291.49,608.55 286.3,617.85" fill="#fff" stroke="#000" stroke-width="1.3" stroke-linejoin="miter"/>
<polygon points="307.61,616.75 317.99,616.75 312.8,626.05" fill="#fff" stroke="#000" stroke-width="1.3" stroke-linejoin="miter"/>
<polygon points="334.31,622.75 344.69,622.75 339.5,632.05" fill="#fff" stroke="#000" stroke-width="1.3" stroke-linejoin="miter"/>
<polygon points="360.61,625.85 370.99,625.85 365.8,635.15" fill="#fff" stroke="#000" stroke-width="1.3" stroke-linejoin="miter"/>
<polygon points="387.21,628.35 397.59,628.35 392.4,637.65" fill="#fff" stroke="#000" stroke-width="1.3" stroke-linejoin="miter"/>
<polygon points="414.11,628.35 424.49,628.35 419.3,637.65" fill="#fff" stroke="#000" stroke-width="1.3" stroke-linejoin="miter"/>
<polygon points="440.71,627.05 451.09,627.05 445.9,636.35" fill="#fff" stroke="#000" stroke-width="1.3" stroke-linejoin="miter"/>
<circle cx="437.5" cy="410.1" r="7.4" fill="#000"/>
<text x="462.2" y="415.5" font-size="13" text-anchor="start" font-weight="normal" font-family='"Liberation Sans", sans-serif' fill="#000" stroke="#000" stroke-width="0.45" textLength="23.6" lengthAdjust="spacingAndGlyphs">x=0</text>
<circle cx="437.5" cy="430" r="6.8" fill="#fff" stroke="#000" stroke-width="1.2"/>
<text x="462.2" y="434.8" font-size="13" text-anchor="start" font-weight="normal" font-family='"Liberation Sans", sans-serif' fill="#000" stroke="#000" stroke-width="0.45" textLength="23.6" lengthAdjust="spacingAndGlyphs">x=3</text>
<polygon points="430.3,445.1 444.7,445.1 437.5,458.3" fill="#000"/>
<text x="462.2" y="454.7" font-size="13" text-anchor="start" font-weight="normal" font-family='"Liberation Sans", sans-serif' fill="#000" stroke="#000" stroke-width="0.45" textLength="23.6" lengthAdjust="spacingAndGlyphs">x=6</text>
<polygon points="431.24,465.7 443.76,465.7 437.5,477.15" fill="#fff" stroke="#000" stroke-width="1.2" stroke-linejoin="miter"/>
<text x="462.2" y="474.6" font-size="13" text-anchor="start" font-weight="normal" font-family='"Liberation Sans", sans-serif' fill="#000" stroke="#000" stroke-width="0.45" textLength="23.6" lengthAdjust="spacingAndGlyphs">x=9</text>
<text x="278.5" y="416.3" font-size="31.5" text-anchor="middle" font-weight="bold" font-family='"Liberation Sans", sans-serif' fill="#0000ff" >(c)</text>
<text x="287" y="731.7" font-size="14.5" text-anchor="middle" font-weight="normal" font-family='"Liberation Sans", sans-serif' fill="#000" stroke="#000" stroke-width="0.45" >T (K)</text>
<text x="0" y="0" font-size="14.5" text-anchor="middle" font-weight="normal" font-family='"Liberation Sans", sans-serif' fill="#000" stroke="#000" stroke-width="0.45" transform="translate(35.5,543.5) rotate(-90)">κ<tspan dy="4" font-size="10">L</tspan><tspan dy="-4"> (Wm</tspan><tspan dy="-5" font-size="10">-1</tspan><tspan dy="5">K</tspan><tspan dy="-5" font-size="10">-1</tspan><tspan dy="5">)</tspan></text>
</g>
<line x1="625.1" y1="699.8" x2="625.1" y2="694.8" stroke="#000" stroke-width="2"/>
<line x1="678.6" y1="699.8" x2="678.6" y2="694.8" stroke="#000" stroke-width="2"/>
<line x1="732.1" y1="699.8" x2="732.1" y2="694.8" stroke="#000" stroke-width="2"/>
<line x1="785.6" y1="699.8" x2="785.6" y2="694.8" stroke="#000" stroke-width="2"/>
<line x1="839.1" y1="699.8" x2="839.1" y2="694.8" stroke="#000" stroke-width="2"/>
<line x1="892.6" y1="699.8" x2="892.6" y2="694.8" stroke="#000" stroke-width="2"/>
<line x1="946.1" y1="699.8" x2="946.1" y2="694.8" stroke="#000" stroke-width="2"/>
<line x1="571.6" y1="621.35" x2="576.6" y2="621.35" stroke="#000" stroke-width="2"/>
<line x1="571.6" y1="542.9" x2="576.6" y2="542.9" stroke="#000" stroke-width="2"/>
<line x1="571.6" y1="464.45" x2="576.6" y2="464.45" stroke="#000" stroke-width="2"/>
<rect x="571.6" y="386" width="431.3" height="313.8" fill="none" stroke="#000" stroke-width="2.4"/>
<text x="565" y="704.7" font-size="19.5" text-anchor="end" font-weight="bold" font-family='"Liberation Serif", serif' fill="#000" >0.0</text>
<text x="565" y="627.15" font-size="19.5" text-anchor="end" font-weight="bold" font-family='"Liberation Serif", serif' fill="#000" >0.2</text>
<text x="565" y="548.7" font-size="19.5" text-anchor="end" font-weight="bold" font-family='"Liberation Serif", serif' fill="#000" >0.4</text>
<text x="565" y="470.25" font-size="19.5" text-anchor="end" font-weight="bold" font-family='"Liberation Serif", serif' fill="#000" >0.6</text>
<text x="565" y="395.5" font-size="19.5" text-anchor="end" font-weight="bold" font-family='"Liberation Serif", serif' fill="#000" >0.8</text>
<text x="569.1" y="718.8" font-size="17.2" text-anchor="middle" font-weight="bold" font-family='"Liberation Sans", sans-serif' fill="#000" transform="translate(569.1,0) scale(0.9,1) translate(-569.1,0)">200</text>
<text x="623.2" y="718.8" font-size="17.2" text-anchor="middle" font-weight="bold" font-family='"Liberation Sans", sans-serif' fill="#000" transform="translate(623.2,0) scale(0.9,1) translate(-623.2,0)">300</text>
<text x="677.1" y="718.8" font-size="17.2" text-anchor="middle" font-weight="bold" font-family='"Liberation Sans", sans-serif' fill="#000" transform="translate(677.1,0) scale(0.9,1) translate(-677.1,0)">400</text>
<text x="731.5" y="718.8" font-size="17.2" text-anchor="middle" font-weight="bold" font-family='"Liberation Sans", sans-serif' fill="#000" transform="translate(731.5,0) scale(0.9,1) translate(-731.5,0)">500</text>
<text x="783.9" y="718.8" font-size="17.2" text-anchor="middle" font-weight="bold" font-family='"Liberation Sans", sans-serif' fill="#000" transform="translate(783.9,0) scale(0.9,1) translate(-783.9,0)">600</text>
<text x="838.6" y="718.8" font-size="17.2" text-anchor="middle" font-weight="bold" font-family='"Liberation Sans", sans-serif' fill="#000" transform="translate(838.6,0) scale(0.9,1) translate(-838.6,0)">700</text>
<text x="894.1" y="718.8" font-size="17.2" text-anchor="middle" font-weight="bold" font-family='"Liberation Sans", sans-serif' fill="#000" transform="translate(894.1,0) scale(0.9,1) translate(-894.1,0)">800</text>
<text x="945.2" y="718.8" font-size="17.2" text-anchor="middle" font-weight="bold" font-family='"Liberation Sans", sans-serif' fill="#000" transform="translate(945.2,0) scale(0.9,1) translate(-945.2,0)">900</text>
<text x="991.4" y="718.8" font-size="17.2" text-anchor="middle" font-weight="bold" font-family='"Liberation Sans", sans-serif' fill="#000" transform="translate(991.4,0) scale(0.9,1) translate(-991.4,0)">1000</text>
<text x="0" y="0" font-size="17.2" font-weight="bold" font-family='"Liberation Sans", sans-serif' text-anchor="middle" transform="translate(784,734.2) scale(0.88,1)"><tspan font-style="italic">T</tspan> (K)</text>
<text x="0" y="0" font-size="19.5" font-weight="bold" font-style="italic" font-family='"Liberation Serif", serif' text-anchor="middle" transform="translate(539.3,541) rotate(-90) scale(0.9,1)">ZT</text>
<path d="M622.4,644.62 L623.89,644.43 L625.37,644.17 L626.86,643.83 L628.34,643.42 L629.83,642.95 L631.32,642.42 L632.8,641.82 L634.29,641.16 L635.77,640.46 L637.26,639.69 L638.74,638.88 L640.23,638.02 L641.72,637.12 L643.2,636.17 L644.69,635.18 L646.17,634.15 L647.66,633.08 L649.15,631.98 L650.63,630.84 L652.12,629.67 L653.6,628.47 L655.09,627.25 L656.57,625.99 L658.06,624.71 L659.55,623.4 L661.03,622.08 L662.52,620.72 L664,619.35 L665.49,617.96 L666.98,616.55 L668.46,615.12 L669.95,613.67 L671.43,612.21 L672.92,610.73 L674.4,609.24 L675.89,607.74 L677.38,606.22 L678.86,604.69 L680.35,603.14 L681.83,601.59 L683.32,600.03 L684.81,598.46 L686.29,596.87 L687.78,595.28 L689.26,593.68 L690.75,592.07 L692.23,590.46 L693.72,588.84 L695.21,587.21 L696.69,585.57 L698.18,583.93 L699.66,582.28 L701.15,580.63 L702.64,578.97 L704.12,577.3 L705.61,575.63 L707.09,573.96 L708.58,572.28 L710.06,570.59 L711.55,568.91 L713.04,567.21 L714.52,565.52 L716.01,563.82 L717.49,562.11 L718.98,560.4 L720.47,558.69 L721.95,556.98 L723.44,555.26 L724.92,553.54 L726.41,551.81 L727.89,550.09 L729.38,548.36 L730.87,546.62 L732.35,544.89 L733.84,543.15 L735.32,541.41 L736.81,539.66 L738.3,537.92 L739.78,536.17 L741.27,534.42 L742.75,532.66 L744.24,530.91 L745.73,529.15 L747.21,527.4 L748.7,525.64 L750.18,523.88 L751.67,522.11 L753.15,520.35 L754.64,518.59 L756.13,516.82 L757.61,515.06 L759.1,513.29 L760.58,511.53 L762.07,509.77 L763.56,508 L765.04,506.24 L766.53,504.47 L768.01,502.71 L769.5,500.95 L770.98,499.19 L772.47,497.44 L773.96,495.68 L775.44,493.93 L776.93,492.18 L778.41,490.44 L779.9,488.69 L781.39,486.95 L782.87,485.22 L784.36,483.49 L785.84,481.76 L787.33,480.04 L788.81,478.33 L790.3,476.62 L791.79,474.92 L793.27,473.23 L794.76,471.54 L796.24,469.86 L797.73,468.19 L799.22,466.53 L800.7,464.87 L802.19,463.23 L803.67,461.6 L805.16,459.98 L806.64,458.36 L808.13,456.76 L809.62,455.18 L811.1,453.6 L812.59,452.04 L814.07,450.49 L815.56,448.96 L817.05,447.44 L818.53,445.94 L820.02,444.45 L821.5,442.98 L822.99,441.53 L824.47,440.09 L825.96,438.67 L827.45,437.27 L828.93,435.89 L830.42,434.53 L831.9,433.19 L833.39,431.87 L834.88,430.58 L836.36,429.3 L837.85,428.05 L839.33,426.82 L840.82,425.62 L842.31,424.44 L843.79,423.28 L845.28,422.15 L846.76,421.05 L848.25,419.97 L849.73,418.92 L851.22,417.9 L852.71,416.91 L854.19,415.94 L855.68,415.01 L857.16,414.1 L858.65,413.22 L860.14,412.38 L861.62,411.57 L863.11,410.78 L864.59,410.03 L866.08,409.32 L867.56,408.63 L869.05,407.98 L870.54,407.36 L872.02,406.78 L873.51,406.23 L874.99,405.72 L876.48,405.24 L877.97,404.8 L879.45,404.39 L880.94,404.02 L882.42,403.68 L883.91,403.38 L885.39,403.12 L886.88,402.89 L888.37,402.71 L889.85,402.56 L891.34,402.44 L892.82,402.36 L894.31,402.33 L895.8,402.32 L897.28,402.36 L898.77,402.43 L900.25,402.54 L901.74,402.69 L903.22,402.87 L904.71,403.09 L906.2,403.35 L907.68,403.65 L909.17,403.98 L910.65,404.34 L912.14,404.74 L913.63,405.18 L915.11,405.65 L916.6,406.16 L918.08,406.7 L919.57,407.28 L921.05,407.88 L922.54,408.52 L924.03,409.19 L925.51,409.89 L927,410.63 L928.48,411.39 L929.97,412.18 L931.46,412.99 L932.94,413.84 L934.43,414.71 L935.91,415.6 L937.4,416.52 L938.88,417.47 L940.37,418.43 L941.86,419.41 L943.34,420.42 L944.83,421.44 L946.31,422.48 L947.8,423.53" fill="none" stroke="#ff0000" stroke-width="4.6" stroke-dasharray="15 5.8"/>
<path d="M623,657.31 L624.48,656.39 L625.96,655.44 L627.45,654.49 L628.93,653.52 L630.41,652.53 L631.89,651.54 L633.38,650.53 L634.86,649.52 L636.34,648.49 L637.82,647.46 L639.3,646.42 L640.79,645.37 L642.27,644.31 L643.75,643.25 L645.23,642.18 L646.72,641.1 L648.2,640.02 L649.68,638.93 L651.16,637.84 L652.64,636.74 L654.13,635.64 L655.61,634.53 L657.09,633.42 L658.57,632.31 L660.05,631.18 L661.54,630.06 L663.02,628.93 L664.5,627.8 L665.98,626.66 L667.47,625.52 L668.95,624.37 L670.43,623.22 L671.91,622.06 L673.39,620.9 L674.88,619.73 L676.36,618.56 L677.84,617.39 L679.32,616.21 L680.81,615.02 L682.29,613.83 L683.77,612.63 L685.25,611.43 L686.73,610.22 L688.22,609.01 L689.7,607.79 L691.18,606.57 L692.66,605.34 L694.15,604.1 L695.63,602.85 L697.11,601.61 L698.59,600.35 L700.07,599.09 L701.56,597.82 L703.04,596.54 L704.52,595.26 L706,593.97 L707.48,592.68 L708.97,591.38 L710.45,590.07 L711.93,588.76 L713.41,587.44 L714.9,586.11 L716.38,584.78 L717.86,583.44 L719.34,582.09 L720.82,580.74 L722.31,579.38 L723.79,578.01 L725.27,576.65 L726.75,575.27 L728.24,573.89 L729.72,572.5 L731.2,571.11 L732.68,569.72 L734.16,568.32 L735.65,566.91 L737.13,565.5 L738.61,564.09 L740.09,562.67 L741.58,561.25 L743.06,559.83 L744.54,558.41 L746.02,556.98 L747.5,555.55 L748.99,554.12 L750.47,552.69 L751.95,551.26 L753.43,549.82 L754.92,548.39 L756.4,546.96 L757.88,545.53 L759.36,544.1 L760.84,542.67 L762.33,541.24 L763.81,539.82 L765.29,538.4 L766.77,536.98 L768.25,535.57 L769.74,534.16 L771.22,532.76 L772.7,531.37 L774.18,529.98 L775.67,528.59 L777.15,527.22 L778.63,525.85 L780.11,524.49 L781.59,523.14 L783.08,521.8 L784.56,520.47 L786.04,519.15 L787.52,517.84 L789.01,516.54 L790.49,515.26 L791.97,513.99 L793.45,512.73 L794.93,511.49 L796.42,510.26 L797.9,509.04 L799.38,507.84 L800.86,506.66 L802.35,505.5 L803.83,504.35 L805.31,503.22 L806.79,502.11 L808.27,501.02 L809.76,499.95 L811.24,498.9 L812.72,497.87 L814.2,496.86 L815.68,495.87 L817.17,494.9 L818.65,493.96 L820.13,493.04 L821.61,492.15 L823.1,491.27 L824.58,490.43 L826.06,489.61 L827.54,488.81 L829.02,488.04 L830.51,487.29 L831.99,486.58 L833.47,485.89 L834.95,485.22 L836.44,484.59 L837.92,483.98 L839.4,483.4 L840.88,482.85 L842.36,482.33 L843.85,481.84 L845.33,481.38 L846.81,480.94 L848.29,480.54 L849.78,480.17 L851.26,479.83 L852.74,479.52 L854.22,479.24 L855.7,478.99 L857.19,478.77 L858.67,478.58 L860.15,478.43 L861.63,478.31 L863.12,478.21 L864.6,478.15 L866.08,478.12 L867.56,478.13 L869.04,478.16 L870.53,478.23 L872.01,478.33 L873.49,478.46 L874.97,478.62 L876.45,478.81 L877.94,479.03 L879.42,479.29 L880.9,479.57 L882.38,479.89 L883.87,480.24 L885.35,480.62 L886.83,481.03 L888.31,481.47 L889.79,481.94 L891.28,482.44 L892.76,482.97 L894.24,483.53 L895.72,484.12 L897.21,484.73 L898.69,485.38 L900.17,486.05 L901.65,486.76 L903.13,487.49 L904.62,488.25 L906.1,489.04 L907.58,489.85 L909.06,490.69 L910.55,491.56 L912.03,492.45 L913.51,493.37 L914.99,494.32 L916.47,495.29 L917.96,496.29 L919.44,497.31 L920.92,498.35 L922.4,499.43 L923.88,500.52 L925.37,501.64 L926.85,502.79 L928.33,503.95 L929.81,505.14 L931.3,506.36 L932.78,507.6 L934.26,508.86 L935.74,510.14 L937.22,511.45 L938.71,512.78 L940.19,514.13 L941.67,515.51 L943.15,516.91 L944.64,518.34 L946.12,519.78 L947.6,521.25" fill="none" stroke="#0000ff" stroke-width="4.6" stroke-dasharray="15 5.6"/>
<line x1="728.6" y1="435.8" x2="765.5" y2="481.5" stroke="#ff0000" stroke-width="4.3"/>
<polyline points="746.9,474.3 765.5,481.5 762.4,462.1" fill="none" stroke="#ff0000" stroke-width="4.3" stroke-linecap="round" stroke-linejoin="miter" stroke-miterlimit="10"/>
<line x1="786.9" y1="611" x2="750" y2="564.5" stroke="#0000ff" stroke-width="4.3"/>
<polyline points="753.6,585.2 750,564.5 768.6,573" fill="none" stroke="#0000ff" stroke-width="4.3" stroke-linecap="round" stroke-linejoin="miter" stroke-miterlimit="10"/>
<text x="576.8" y="407.5" font-size="17" font-weight="bold" font-family='"Liberation Sans", sans-serif' fill="#ff0000" textLength="230" lengthAdjust="spacingAndGlyphs">Zr<tspan font-size="12.5" dy="2.8">0.5</tspan><tspan dy="-2.8">Hf</tspan><tspan font-size="12.5" dy="2.8">0.5</tspan><tspan dy="-2.8">Ni</tspan><tspan font-size="12.5" dy="2.8">0.8</tspan><tspan dy="-2.8">Pd</tspan><tspan font-size="12.5" dy="2.8">0.2</tspan><tspan dy="-2.8">Sn</tspan><tspan font-size="12.5" dy="2.8">0.99</tspan><tspan dy="-2.8">Sb</tspan><tspan font-size="12.5" dy="2.8">0.01</tspan></text>
<text x="576.8" y="428.5" font-size="17" font-weight="bold" font-family='"Liberation Sans", sans-serif' fill="#ff0000" textLength="228" lengthAdjust="spacingAndGlyphs">-9 vol% ZrO<tspan font-size="12.5" dy="2.8">2</tspan><tspan dy="-2.8"> nanocomposite</tspan></text>
<text x="751" y="634.4" font-size="17" font-weight="bold" font-family='"Liberation Sans", sans-serif' fill="#0000ff" textLength="229.5" lengthAdjust="spacingAndGlyphs">Zr<tspan font-size="12.5" dy="2.8">0.5</tspan><tspan dy="-2.8">Hf</tspan><tspan font-size="12.5" dy="2.8">0.5</tspan><tspan dy="-2.8">Ni</tspan><tspan font-size="12.5" dy="2.8">0.8</tspan><tspan dy="-2.8">Pd</tspan><tspan font-size="12.5" dy="2.8">0.2</tspan><tspan dy="-2.8">Sn</tspan><tspan font-size="12.5" dy="2.8">0.99</tspan><tspan dy="-2.8">Sb</tspan><tspan font-size="12.5" dy="2.8">0.01</tspan></text>
<text x="973.6" y="415.5" font-size="31.5" text-anchor="middle" font-weight="bold" font-family='"Liberation Sans", sans-serif' fill="#0000ff" >(d)</text>
</svg>
</body></html>
